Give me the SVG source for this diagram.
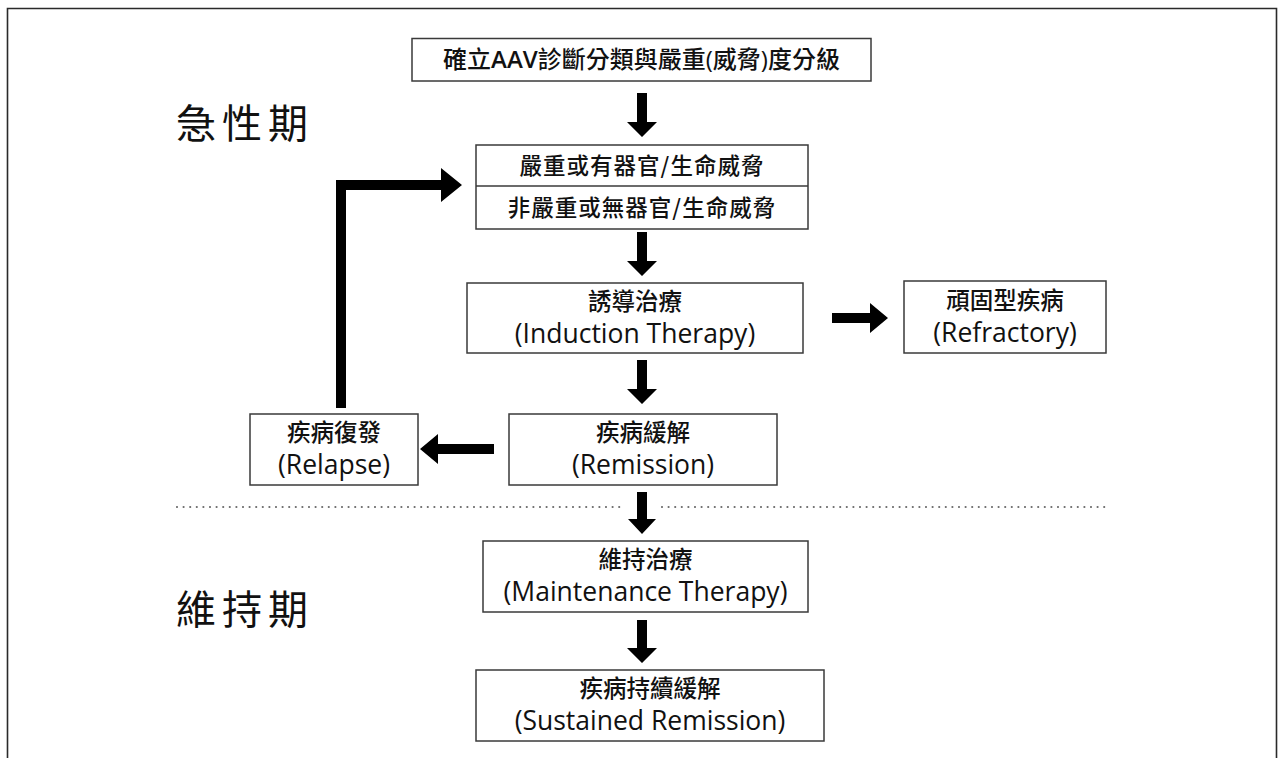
<svg xmlns="http://www.w3.org/2000/svg" width="1279" height="758" viewBox="0 0 1279 758">
<style>
.box{fill:#fff;stroke:#3a3a3a;stroke-width:1.5}
.t{font-family:"Open Sans","Noto Sans CJK TC",sans-serif;font-size:26.5px;fill:#111;text-anchor:middle}
.cjk{font-family:"Noto Sans CJK TC",sans-serif;font-weight:500;font-size:23.5px;fill:#111;text-anchor:middle}
.phase{font-family:"Noto Sans CJK TC",serif;font-weight:400;font-size:40px;fill:#111;letter-spacing:6px}
.arr{fill:#000}
.dot{stroke:#6a6a6a;stroke-width:2.2;stroke-linecap:round;stroke-dasharray:0 6.6;fill:none}
</style>
<rect x="0" y="0" width="1279" height="758" fill="#fff"/>
<path d="M7.5 760 V8.5 H1276.5 V760" fill="none" stroke="#2a2a2a" stroke-width="1.6"/>

<text class="phase" x="176" y="138">急性期</text>
<text class="phase" x="176" y="624">維持期</text>

<g id="connectors">
  <polygon class="arr" points="637,93 647,93 647,122 657,122 642,137 627,122 637,122"/>
  <polygon class="arr" points="637,232 647,232 647,261 657,261 642,276 627,261 637,261"/>
  <polygon class="arr" points="637,360 647,360 647,389 657,389 642,404 627,389 637,389"/>
  <polygon class="arr" points="637,492 647,492 647,519 656,519 642,534 628,519 637,519"/>
  <polygon class="arr" points="637,620 647,620 647,648 657,648 642,663 627,648 637,648"/>
  <polygon class="arr" points="832,313 870,313 870,303 888,318 870,333 870,323 832,323"/>
  <polygon class="arr" points="494,444 438,444 438,434 420,449 438,464 438,454 494,454"/>
  <polygon class="arr" points="336,408 346,408 346,190 441,190 441,168 462,185 441,202 441,180 336,180"/>
  <line class="dot" x1="177" y1="507" x2="621" y2="507"/>
  <line class="dot" x1="662" y1="507" x2="1106" y2="507"/>
</g>

<g id="node-diagnosis">
  <rect class="box" x="412" y="38.5" width="459" height="42.5"/>
  <text class="cjk" x="641.5" y="68" style="font-size:24px">確立<tspan font-family="Open Sans" font-weight="600">AAV</tspan>診斷分類與嚴重<tspan font-family="Open Sans">(</tspan>威脅<tspan font-family="Open Sans">)</tspan>度分級</text>
</g>

<g id="node-severity">
  <rect class="box" x="476" y="145" width="332" height="84"/>
  <line x1="476" y1="186" x2="808" y2="186" stroke="#3a3a3a" stroke-width="1.5"/>
  <text class="cjk" x="642" y="174" letter-spacing="1" style="font-size:22.5px">嚴重或有器官/生命威脅</text>
  <text class="cjk" x="642" y="216" letter-spacing="1" style="font-size:22.5px">非嚴重或無器官/生命威脅</text>
</g>

<g id="node-induction">
  <rect class="box" x="467" y="283" width="336" height="70"/>
  <text class="cjk" x="635" y="310">誘導治療</text>
  <text class="t" x="635" y="343">(Induction Therapy)</text>
</g>

<g id="node-refractory">
  <rect class="box" x="904" y="281" width="202" height="72"/>
  <text class="cjk" x="1005" y="309">頑固型疾病</text>
  <text class="t" x="1005" y="342">(Refractory)</text>
</g>

<g id="node-remission">
  <rect class="box" x="509" y="414" width="268" height="71"/>
  <text class="cjk" x="643" y="441">疾病緩解</text>
  <text class="t" x="643" y="474">(Remission)</text>
</g>

<g id="node-relapse">
  <rect class="box" x="250" y="414" width="168" height="71"/>
  <text class="cjk" x="334" y="441">疾病復發</text>
  <text class="t" x="334" y="474">(Relapse)</text>
</g>

<g id="node-maintenance">
  <rect class="box" x="483" y="541" width="325" height="71"/>
  <text class="cjk" x="645.5" y="568">維持治療</text>
  <text class="t" x="645.5" y="601">(Maintenance Therapy)</text>
</g>

<g id="node-sustained">
  <rect class="box" x="476" y="670" width="348" height="71"/>
  <text class="cjk" x="650" y="697">疾病持續緩解</text>
  <text class="t" x="650" y="730">(Sustained Remission)</text>
</g>
</svg>
